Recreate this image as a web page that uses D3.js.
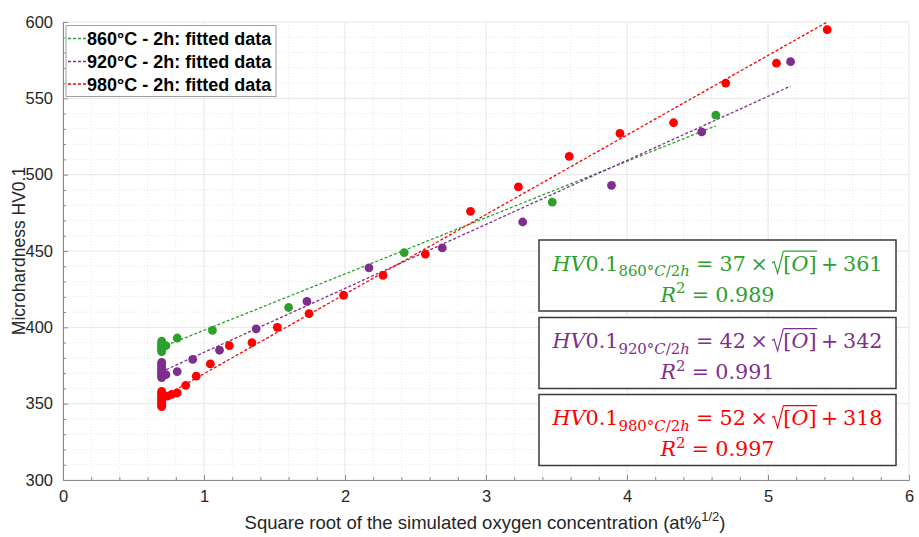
<!DOCTYPE html>
<html><head><meta charset="utf-8">
<script src="https://cdn.jsdelivr.net/npm/d3@7"></script>
<style>body{margin:0;background:#fff}</style>
</head><body><svg id="c" width="919" height="537" xmlns="http://www.w3.org/2000/svg"></svg>
<script>
// ---------- data ----------
const xTicks = [0, 1, 2, 3, 4, 5, 6];
const yTicks = [300, 350, 400, 450, 500, 550, 600];
const seriesNames = ["860°C - 2h: fitted data", "920°C - 2h: fitted data", "980°C - 2h: fitted data"];
const seriesColors = ["#2ca02c", "#7e2f8e", "#ff0000"];

const greenX = [0.70, 0.70, 0.70, 0.70, 0.70, 0.70, 0.70, 0.70, 0.73, 0.81, 1.06, 1.60, 2.42, 3.47, 4.63];
const greenY = [391, 390, 389, 388, 387, 386, 385, 384, 388, 393, 398, 413, 449, 482, 539];

const purpleX = [0.70, 0.70, 0.70, 0.70, 0.70, 0.70, 0.70, 0.70, 0.70, 0.70, 0.70, 0.73, 0.81, 0.92, 1.11, 1.37, 1.73, 2.17, 2.69, 3.26, 3.89, 4.53, 5.16];
const purpleY = [377, 376, 375, 374, 373, 372, 371, 370, 369, 368, 367, 369, 371, 379, 385, 399, 417, 439, 452, 469, 493, 528, 574];

const redX = [0.70, 0.70, 0.70, 0.70, 0.70, 0.70, 0.70, 0.70, 0.70, 0.70, 0.70, 0.74, 0.77, 0.81, 0.87, 0.945, 1.045, 1.18, 1.34, 1.52, 1.745, 1.99, 2.27, 2.57, 2.89, 3.23, 3.59, 3.95, 4.33, 4.70, 5.06, 5.42];
const redY = [358, 357, 356, 355, 354, 353, 352, 351, 350, 349, 348, 355, 356, 357, 362, 368, 376, 388, 390, 400, 409, 421, 434, 448, 476, 492, 512, 527, 534, 560, 573, 595];

// fitted line end points
const greenFitX = [0.70, 4.63], greenFitY = [387, 532];
const purpleFitX = [0.70, 5.16], purpleFitY = [371, 558];
const redFitX = [0.70, 5.42], redFitY = [354, 600];

// equation box texts
const eqTemps = ["860°", "920°", "980°"];
const eqSlopes = ["37", "42", "52"];
const eqIntercepts = ["361", "342", "318"];
const eqR2 = ["0.989", "0.991", "0.997"];

// ---------- build ----------
const svg = d3.select("#c");
const W = 919, H = 537;
const m = {l: 63, r: 909, t: 22, b: 480};
const x = d3.scaleLinear().domain([0, 6]).range([m.l, m.r]);
const y = d3.scaleLinear().domain([300, 600]).range([m.b, m.t]);
const sansFont = "'Liberation Sans', Arial, sans-serif";
const serifFont = "'DejaVu Serif', 'Liberation Serif', serif";

svg.append("rect").attr("width", W).attr("height", H).attr("fill", "#fff");

// grid
const grid = svg.append("g");
const xMinor = d3.range(0, 30.001, 1).map(i => i * 0.2).filter(v => Math.abs(v - Math.round(v)) > 1e-6);
const yMinor = d3.range(300, 600.001, 10).filter(v => v % 50 !== 0);
grid.selectAll(".xm").data(xMinor).join("line")
  .attr("x1", d => x(d)).attr("x2", d => x(d)).attr("y1", m.t).attr("y2", m.b)
  .attr("stroke", "#e6e6e6").attr("stroke-width", 1).attr("stroke-dasharray", "1,2");
grid.selectAll(".ym").data(yMinor).join("line")
  .attr("y1", d => y(d)).attr("y2", d => y(d)).attr("x1", m.l).attr("x2", m.r)
  .attr("stroke", "#e6e6e6").attr("stroke-width", 1).attr("stroke-dasharray", "1,2");
grid.selectAll(".xM").data(xTicks).join("line")
  .attr("x1", d => x(d)).attr("x2", d => x(d)).attr("y1", m.t).attr("y2", m.b)
  .attr("stroke", "#e6e6e6").attr("stroke-width", 1);
grid.selectAll(".yM").data(yTicks).join("line")
  .attr("y1", d => y(d)).attr("y2", d => y(d)).attr("x1", m.l).attr("x2", m.r)
  .attr("stroke", "#e6e6e6").attr("stroke-width", 1);

// axes
const axisColor = "#8a8a8a", textColor = "#262626";
svg.append("g").attr("transform", `translate(0,${m.b})`)
  .call(d3.axisBottom(x).tickValues(xTicks).tickFormat(d3.format("d")).tickSizeInner(-5).tickSizeOuter(0).tickPadding(10));
svg.append("g").attr("transform", `translate(${m.l},0)`)
  .call(d3.axisLeft(y).tickValues(yTicks).tickFormat(d3.format("d")).tickSizeInner(-5).tickSizeOuter(0).tickPadding(10));
// minor ticks
svg.append("g").attr("transform", `translate(0,${m.b})`)
  .call(d3.axisBottom(x).tickValues(xMinor).tickFormat("").tickSizeInner(-3).tickSizeOuter(0));
svg.append("g").attr("transform", `translate(${m.l},0)`)
  .call(d3.axisLeft(y).tickValues(yMinor).tickFormat("").tickSizeInner(-3).tickSizeOuter(0));
svg.selectAll(".domain").attr("stroke", axisColor);
svg.selectAll(".tick line").attr("stroke", axisColor);
svg.selectAll(".tick text").attr("fill", textColor).attr("font-family", sansFont).attr("font-size", 16.5);

// axis labels
const xl = svg.append("text").attr("x", 485).attr("y", 529)
  .attr("text-anchor", "middle").attr("font-family", sansFont).attr("font-size", 18.5).attr("fill", textColor);
xl.append("tspan").text("Square root of the simulated oxygen concentration (at%");
xl.append("tspan").attr("font-size", 13).attr("dy", -8).text("1/2");
xl.append("tspan").attr("dy", 8).text(")");

svg.append("text").attr("transform", `translate(25,${(m.t + m.b) / 2}) rotate(-90)`)
  .attr("text-anchor", "middle").attr("font-family", sansFont).attr("font-size", 17.5).attr("fill", textColor)
  .text("Microhardness HV0.1");

// fitted lines
const fits = [[greenFitX, greenFitY], [purpleFitX, purpleFitY], [redFitX, redFitY]];
const line = d3.line().x(d => x(d[0])).y(d => y(d[1]));
fits.forEach((f, i) => {
  svg.append("path").attr("d", line(d3.zip(f[0], f[1])))
    .attr("fill", "none").attr("stroke", seriesColors[i]).attr("stroke-width", 1.3)
    .attr("stroke-dasharray", "3,2");
});

// points
const pts = [[greenX, greenY], [purpleX, purpleY], [redX, redY]];
pts.forEach((p, i) => {
  svg.append("g").selectAll("circle").data(d3.zip(p[0], p[1])).join("circle")
    .attr("cx", d => x(d[0])).attr("cy", d => y(d[1])).attr("r", 4.4)
    .attr("fill", seriesColors[i]);
});

// legend
const lg = svg.append("g");
lg.append("rect").attr("x", 66).attr("y", 25.5).attr("width", 210).attr("height", 71)
  .attr("fill", "#fff").attr("stroke", "#a0a0a0").attr("stroke-width", 1);
const legYs = [38.5, 61.5, 84];
seriesNames.forEach((n, i) => {
  lg.append("line").attr("x1", 68).attr("x2", 86).attr("y1", legYs[i]).attr("y2", legYs[i])
    .attr("stroke", seriesColors[i]).attr("stroke-width", 1.3).attr("stroke-dasharray", "3,2");
  lg.append("text").attr("x", 87).attr("y", legYs[i] + 6.5).attr("font-family", sansFont)
    .attr("font-weight", "bold").attr("font-size", 18).attr("fill", "#000").text(n);
});

// equation boxes
const boxTops = [240, 317.5, 394.5];
function richLine(g, pieces, fs, color) {
  let cx = 0;
  pieces.forEach(p => {
    if (p.rad) {
      const w = fs * 0.55;
      g.append("path").attr("d",
        `M${cx},${-fs*0.36} L${cx+fs*0.1},${-fs*0.42} L${cx+fs*0.27},${fs*0.14} L${cx+w},${-fs*0.92}`)
        .attr("fill", "none").attr("stroke", color).attr("stroke-width", fs * 0.055);
      cx += w;
      g.node().__radStart = cx;
      return;
    }
    const size = fs * (p.sub || p.sup ? 0.72 : 1);
    const dy = p.sub ? fs * 0.27 : (p.sup ? -fs * 0.4 : 0);
    const t = g.append("text").attr("x", cx).attr("y", dy).attr("font-size", size)
      .attr("font-family", serifFont).attr("font-style", p.i ? "italic" : "normal")
      .attr("fill", color).text(p.t);
    const w = t.node().getComputedTextLength();
    cx += w;
    if (p.endRad) {
      g.append("line").attr("x1", g.node().__radStart).attr("x2", cx + fs * 0.03)
        .attr("y1", -fs * 0.92).attr("y2", -fs * 0.92)
        .attr("stroke", color).attr("stroke-width", fs * 0.055);
    }
    cx += (p.gap || 0) * fs;
  });
  return cx;
}
function eqPieces(i) {
  return [
    {t: "HV", i: true}, {t: "0.1"},
    {t: eqTemps[i], sub: true}, {t: "C", i: true, sub: true}, {t: "/2", sub: true}, {t: "h", i: true, sub: true, gap: 0.3},
    {t: "=", gap: 0.3}, {t: eqSlopes[i], gap: 0.22}, {t: "×", gap: 0.2},
    {rad: true}, {t: "["}, {t: "O", i: true}, {t: "]", endRad: true, gap: 0.22},
    {t: "+", gap: 0.22}, {t: eqIntercepts[i]}
  ];
}
function r2Pieces(i) {
  return [{t: "R", i: true}, {t: "2", sup: true, gap: 0.3}, {t: "=", gap: 0.3}, {t: eqR2[i]}];
}
boxTops.forEach((top, i) => {
  const col = seriesColors[i];
  svg.append("rect").attr("x", 539).attr("y", top).attr("width", 357).attr("height", 71)
    .attr("fill", "#fff").attr("stroke", "#3a3a3a").attr("stroke-width", 1.5);
  const fs = 21;
  const cxBox = 539 + 357 / 2;
  const g1 = svg.append("g");
  const w1 = richLine(g1, eqPieces(i), fs, col);
  const sx = 330 / w1;
  g1.attr("transform", `translate(${cxBox - 165},${top + 30.5}) scale(${sx},1)`);
  const g2 = svg.append("g");
  const w2 = richLine(g2, r2Pieces(i), fs, col);
  g2.attr("transform", `translate(${cxBox - w2 * sx / 2},${top + 61.5}) scale(${sx},1)`);
});
</script>
</body></html>
